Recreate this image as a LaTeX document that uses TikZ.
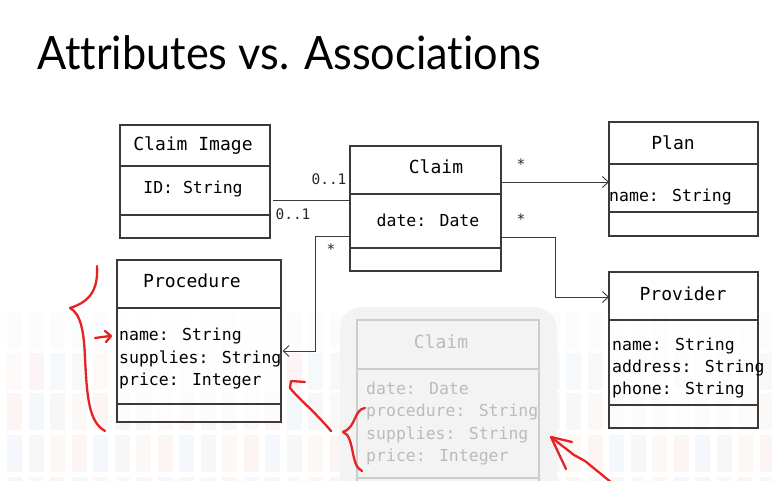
\documentclass[tikz,border=0pt]{standalone}
\usepackage{fontspec}
\setmainfont{Lato}[Ligatures={NoCommon,NoRare,NoDiscretionary}, Contextuals=NoAlternate]
\newfontfamily\umlmono{DejaVu Sans Mono}
\usetikzlibrary{arrows.meta}
\definecolor{boxline}{HTML}{3A3A3A}
\definecolor{ghosttext}{HTML}{BBBBBB}
\definecolor{ghostline}{HTML}{CCCCCC}
\definecolor{ghostbg}{HTML}{F3F3F3}
\definecolor{redpen}{HTML}{E62222}
\definecolor{sg}{HTML}{F2F1F1}
\definecolor{sb}{HTML}{ECF2F9}
\definecolor{sp}{HTML}{FCEBEB}
\definecolor{so}{HTML}{FBF3EE}
\begin{document}
\begin{tikzpicture}[x=1pt,y=-1pt,
  umlbox/.style={draw=boxline, line width=1.1pt, fill=white, fill opacity=0.7, text opacity=1, inner sep=0, outer sep=0, anchor=north west},
  ghostbox/.style={draw=ghostline, line width=1.1pt, inner sep=0, outer sep=0, anchor=north west},
  cls/.style={font=\umlmono\fontsize{18}{22}\selectfont, anchor=base, inner sep=0, text=black},
  attr/.style={font=\umlmono\fontsize{16.5}{22}\selectfont, anchor=base west, inner sep=0, text=black},
  gcls/.style={cls, text=ghosttext},
  gattr/.style={attr, text=ghosttext},
  mult/.style={font=\umlmono\fontsize{14.5}{16}\selectfont, inner sep=0, text=black!85},
  conn/.style={draw=boxline, line width=0.9pt},
  arr/.style={conn, -{Straight Barb[length=6pt, width=11pt, line width=0.9pt]}},
  pen/.style={draw=redpen, line width=2.3pt, line cap=round, line join=round}
]
\useasboundingbox (0,0) rectangle (772,481);
\clip (0,0) rectangle (772,481);
\fill[white] (0,0) rectangle (772,481);

% faint background stripes
\foreach \r/\ya/\yb/\op in {0/313/350/0.2, 1/353/390/0.45, 2/393/430/0.5, 3/435/472/0.55, 4/477/484/0.55} {
  \foreach \i in {0,...,35} {
    \pgfmathtruncatemacro\cc{mod(\i*7+\r*3,4)}
    \ifcase\cc \def\col{sg}\or \def\col{sb}\or \def\col{sp}\or \def\col{so}\fi
    \fill[\col, opacity=\op] (7+\i*21.5,\ya) rectangle (22+\i*21.5,\yb);
  }
}

% title
\node[anchor=base west, inner sep=0, font=\fontsize{46}{50}\selectfont] (title) at (37,70) {\scalebox{0.94}[1]{Attributes vs. Associations}};

% ghost claim (faded)
\fill[ghostbg, rounded corners=22] (340,307) rectangle (557,500);
\node[ghostbox, minimum width=182, minimum height=180] (gc) at (357,320) {};
\draw[ghostline, line width=1.1pt] (gc.west |- 0,369) -- (gc.east |- 0,369);
\draw[ghostline, line width=1.1pt] (gc.west |- 0,478) -- (gc.east |- 0,478);
\node[gcls] (gct) at (441,349) {Claim};
\node[gattr] (gca1) at (366,395) {date: Date};
\node[gattr] (gca2) at (366,417) {procedure: String};
\node[gattr] (gca3) at (366,439) {supplies: String};
\node[gattr] (gca4) at (366,461) {price: Integer};

% Claim Image
\node[umlbox, minimum width=150, minimum height=113] (ci) at (120,125) {};
\draw[boxline, line width=1.1pt] (ci.west |- 0,166) -- (ci.east |- 0,166);
\draw[boxline, line width=1.1pt] (ci.west |- 0,215) -- (ci.east |- 0,215);
\node[cls] (cit) at (193,151) {Claim Image};
\node[cls, font=\umlmono\fontsize{16.5}{22}\selectfont] (cia) at (193,194) {ID: String};

% Claim
\node[umlbox, minimum width=151, minimum height=125] (claim) at (350,146) {};
\draw[boxline, line width=1.1pt] (claim.west |- 0,194) -- (claim.east |- 0,194);
\draw[boxline, line width=1.1pt] (claim.west |- 0,248) -- (claim.east |- 0,248);
\node[cls] (clt) at (436,174) {Claim};
\node[cls, font=\umlmono\fontsize{16.5}{22}\selectfont] (cla) at (428,227) {date: Date};

% Plan
\node[umlbox, minimum width=149, minimum height=114] (plan) at (609,122) {};
\draw[boxline, line width=1.1pt] (plan.west |- 0,164) -- (plan.east |- 0,164);
\draw[boxline, line width=1.1pt] (plan.west |- 0,212) -- (plan.east |- 0,212);
\node[cls] (plt) at (673,150) {Plan};
\node[attr] (pla) at (609,202) {name: String};

% Provider
\node[umlbox, minimum width=149, minimum height=156] (prov) at (609,272) {};
\draw[boxline, line width=1.1pt] (prov.west |- 0,320) -- (prov.east |- 0,320);
\draw[boxline, line width=1.1pt] (prov.west |- 0,405) -- (prov.east |- 0,405);
\node[cls] (prt) at (683,301) {Provider};
\node[attr] (pra1) at (612,351) {name: String};
\node[attr] (pra2) at (612,373) {address: String};
\node[attr] (pra3) at (612,395) {phone: String};

% Procedure
\node[umlbox, minimum width=164, minimum height=162] (proc) at (117,260) {};
\draw[boxline, line width=1.1pt] (proc.west |- 0,308) -- (proc.east |- 0,308);
\draw[boxline, line width=1.1pt] (proc.west |- 0,404) -- (proc.east |- 0,404);
\node[cls] (pct) at (192,288) {Procedure};
\node[attr] (pca1) at (119,341) {name: String};
\node[attr] (pca2) at (119,363) {supplies: String};
\node[attr] (pca3) at (119,385) {price: Integer};

% connectors
\draw[conn, shorten <=3pt] (ci.east |- 0,200) -- (claim.west |- 0,200);
\node[mult] (m1) at (329,179) {0..1};
\node[mult] (m2) at (293,214) {0..1};

\draw[arr] (claim.east |- 0,182) -- (plan.west |- 0,182);
\node[mult] (m3) at (521,164) {*};

\coordinate (b1) at (555,237);
\coordinate (b2) at (555,297);
\draw[arr] (claim.east |- 0,237) -- (b1) -- (b2) -- (prov.west |- 0,297);
\node[mult] (m4) at (521,219) {*};

\coordinate (b3) at (315,236);
\coordinate (b4) at (315,351);
\draw[arr, shorten >=1.5pt] (claim.west |- 0,236) -- (b3) -- (b4) -- (proc.east |- 0,351);
\node[mult] (m5) at (331,249) {*};

% red hand annotations
\draw[pen] (97,266) .. controls (98,286) and (93,301) .. (70,308)
           .. controls (81,314) and (84,332) .. (85,358)
           .. controls (87,398) and (89,422) .. (105,431);
\draw[pen] (95,338) -- (110,336);
\draw[pen] (105,331) -- (111,336) -- (106,342);

\draw[pen] (365,408) .. controls (354,409) and (356,428) .. (343,432)
           .. controls (355,436) and (350,466) .. (362,471);
\draw[pen] (331,431) .. controls (315,412) and (298,398) .. (290,388)
           -- (291,381) -- (305,382);

\draw[pen] (612,483) -- (585,461) -- (574,455) -- (551,437);
\draw[pen] (572,442) -- (551,437) -- (566,469);
\end{tikzpicture}
\end{document}
